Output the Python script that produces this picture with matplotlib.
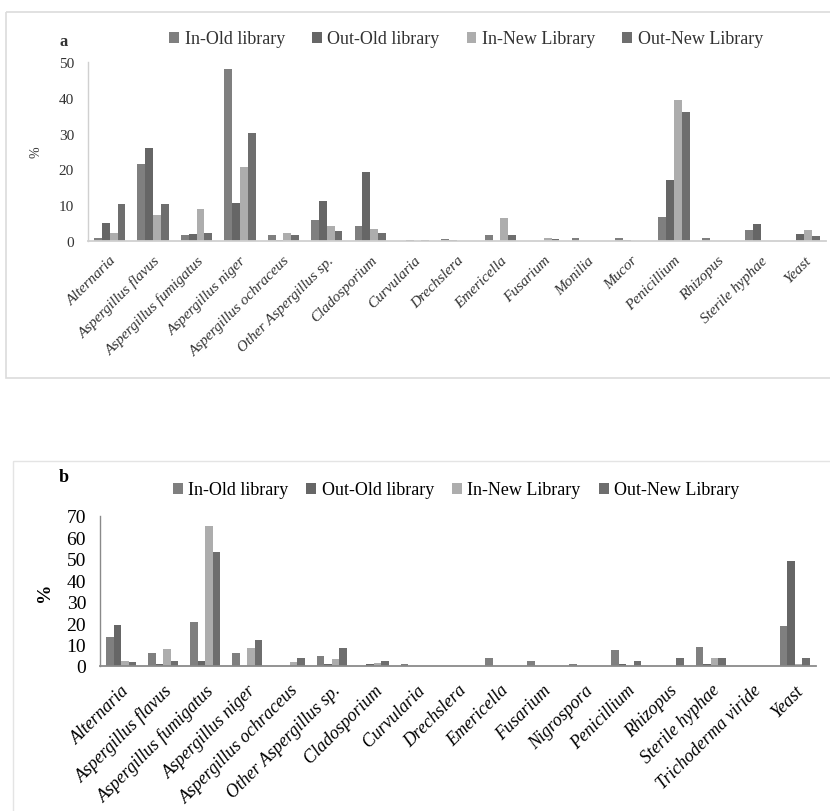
import matplotlib
matplotlib.use("Agg")
import matplotlib.pyplot as plt
from matplotlib.patches import Rectangle
import numpy as np

plt.rcParams['font.family'] = ['Liberation Serif', 'DejaVu Serif']

series = ['In-Old library', 'Out-Old library', 'In-New Library', 'Out-New Library']
colors = ['#7f7f7f', '#666666', '#adadad', '#6e6e6e']

# panel a
cats_a = ['Alternaria', 'Aspergillus flavus', 'Aspergillus fumigatus', 'Aspergillus niger',
          'Aspergillus ochraceus', 'Other Aspergillus sp.', 'Cladosporium', 'Curvularia',
          'Drechslera', 'Emericella', 'Fusarium', 'Monilia', 'Mucor', 'Penicillium',
          'Rhizopus', 'Sterile hyphae', 'Yeast']
in_old_a = [0.7, 21.4, 1.7, 48.0, 1.7, 5.9, 4.1, 0.1, 0.6, 1.7, 0, 0.8, 0.7, 6.8, 0.8, 3.2, 0]
out_old_a = [5.0, 25.9, 1.9, 10.6, 0.3, 11.2, 19.2, 0.4, 0.3, 0, 0, 0, 0.3, 16.9, 0, 4.7, 2.0]
in_new_a = [2.2, 7.4, 8.8, 20.6, 2.1, 4.2, 3.3, 0, 0, 6.3, 0.8, 0, 0, 39.5, 0, 0, 3.2]
out_new_a = [10.4, 10.4, 2.2, 30.1, 1.6, 2.7, 2.2, 0.4, 0, 1.6, 0.5, 0, 0, 36.0, 0, 0, 1.5]

# panel b
cats_b = ['Alternaria', 'Aspergillus flavus', 'Aspergillus fumigatus', 'Aspergillus niger',
          'Aspergillus ochraceus', 'Other Aspergillus sp.', 'Cladosporium', 'Curvularia',
          'Drechslera', 'Emericella', 'Fusarium', 'Nigrospora', 'Penicillium', 'Rhizopus',
          'Sterile hyphae', 'Trichoderma viride', 'Yeast']
in_old_b = [13.7, 6.2, 20.4, 6.2, 0, 4.7, 0, 0.8, 0, 3.7, 2.3, 0.9, 7.5, 0, 9.0, 0, 18.9]
out_old_b = [19.0, 1.1, 2.5, 0, 0, 0.9, 0.8, 0, 0, 0, 0, 0, 0.8, 0, 0.8, 0, 48.8]
in_new_b = [2.5, 7.8, 65.4, 8.4, 1.7, 3.1, 1.6, 0, 0.2, 0.2, 0, 0, 0, 0, 3.9, 0.2, 0.8]
out_new_b = [1.7, 2.5, 53.4, 12.3, 3.9, 8.4, 2.4, 0, 0, 0, 0, 0, 2.3, 3.9, 3.9, 0, 3.7]

W, H = 830, 812
fig = plt.figure(figsize=(W / 100, H / 100), dpi=100)


def px(x0, y0, x1, y1):
    # pixel box (top-left origin) -> figure fraction rect
    return [x0 / W, 1 - y1 / H, (x1 - x0) / W, (y1 - y0) / H]


# panel frames
frame = fig.add_axes([0, 0, 1, 1], zorder=-1)
frame.set_xlim(0, W)
frame.set_ylim(H, 0)
frame.axis('off')
frame.add_patch(Rectangle((6, 13), 840, 366, fill=False, ec='#dcdcdc', lw=1.2))
frame.add_patch(Rectangle((13, 462), 840, 420, fill=False, ec='#e4e4e4', lw=1.0))


def draw(ax, cats, data, ymax, step, fs_tick, fs_lab, axcol, txtcol, width, pad):
    x = np.arange(len(cats))
    offs = (np.arange(4) - 1.5) * width
    bars = []
    for vals, c, o in zip(data, colors, offs):
        bars.append(ax.bar(x + o, vals, width, color=c, linewidth=0))
    ax.set_xlim(-0.5, len(cats) - 0.5)
    ax.set_ylim(0, ymax)
    ax.set_yticks(np.arange(0, ymax + 1, step))
    ax.set_xticks(x)
    ax.set_xticklabels(cats, rotation=45, ha='right', va='top', rotation_mode='anchor',
                       style='italic', fontsize=fs_lab, color=txtcol)
    ax.tick_params(axis='x', length=0, pad=pad)
    ax.tick_params(axis='y', length=0, pad=10, labelsize=fs_tick, labelcolor=txtcol)
    for s in ['top', 'right']:
        ax.spines[s].set_visible(False)
    ax.spines['left'].set_color(axcol)
    ax.spines['bottom'].set_color(axcol)
    ax.spines['left'].set_linewidth(1.0)
    ax.spines['bottom'].set_linewidth(1.3)
    return bars


ax_a = fig.add_axes(px(88, 63, 826, 242))
bars_a = draw(ax_a, cats_a, [in_old_a, out_old_a, in_new_a, out_new_a], 50, 10,
              11, 11, '#d0d0d0', '#333333', 0.18, 9)
ax_a.set_ylabel('%', fontsize=10, color='#333333', labelpad=12)
fig.text(64 / W, 1 - 42 / H, 'a', fontsize=12, fontweight='bold', color='#333333',
         ha='center', va='center')
fig.legend(bars_a, series, loc='center', bbox_to_anchor=(466 / W, 1 - 40 / H), ncol=4,
           frameon=False, fontsize=13, handlelength=0.55, handleheight=0.55,
           handletextpad=0.3, columnspacing=1.5, labelcolor='#333333')

ax_b = fig.add_axes(px(100, 517, 816, 667))
bars_b = draw(ax_b, cats_b, [in_old_b, out_old_b, in_new_b, out_new_b], 70, 10,
              14, 13, '#8a8a8a', 'black', 0.178, 11)
ax_b.set_ylabel('%', fontsize=14, fontweight='bold', labelpad=10)
fig.text(64 / W, 1 - 478 / H, 'b', fontsize=13, fontweight='bold', ha='center', va='center')
fig.legend(bars_b, series, loc='center', bbox_to_anchor=(456 / W, 1 - 491 / H), ncol=4,
           frameon=False, fontsize=13, handlelength=0.55, handleheight=0.55,
           handletextpad=0.3, columnspacing=1.0)

fig.savefig('out.png', dpi=100)
